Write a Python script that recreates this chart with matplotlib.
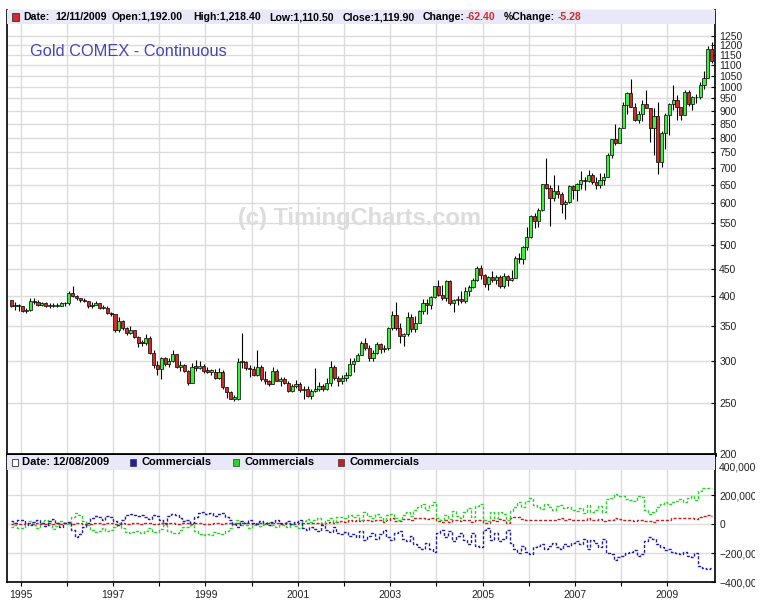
import matplotlib
matplotlib.use('Agg')
import matplotlib.pyplot as plt
from matplotlib.patches import Rectangle
from matplotlib.ticker import FixedLocator, FuncFormatter, NullLocator
import numpy as np

plt.rcParams['font.family'] = ['Liberation Sans', 'DejaVu Sans']

# monthly bars, Oct 1994 .. Dec 2009
first_open = 392
closes = [
    383, 383, 383,
    375, 376, 391, 389, 385, 387, 383, 383, 383, 383, 387, 387,
    405, 400, 396, 392, 391, 382, 385, 387, 379, 379, 371, 369,
    345, 358, 348, 340, 345, 334, 326, 325, 332, 311, 296, 290,
    304, 297, 301, 310, 293, 296, 288, 273, 293, 292, 294, 288,
    287, 287, 279, 286, 268, 262, 255, 255, 299, 299, 291, 290,
    283, 293, 278, 275, 272, 288, 276, 278, 273, 264, 269, 272,
    265, 266, 258, 264, 266, 270, 266, 273, 293, 279, 275, 279,
    283, 297, 301, 309, 326, 318, 305, 312, 324, 317, 318, 347,
    368, 348, 336, 338, 364, 346, 355, 375, 388, 384, 398, 417,
    402, 396, 426, 388, 393, 395, 391, 408, 416, 429, 452, 438,
    422, 435, 428, 435, 417, 437, 429, 433, 473, 470, 495, 518,
    568, 556, 582, 654, 643, 613, 633, 626, 599, 604, 646, 636,
    652, 665, 663, 680, 660, 650, 666, 673, 743, 794, 783, 834,
    923, 972, 917, 863, 887, 926, 912, 834, 880, 718, 816, 884,
    927, 942, 916, 884, 979, 927, 955, 955, 1008, 1040, 1182, 1120,
]
highs = [
    392, 390, 386,
    382, 380, 396, 396, 393, 390, 389, 388, 387, 387, 390, 390,
    408, 418, 402, 397, 396, 391, 389, 391, 388, 385, 383, 372,
    368, 364, 360, 349, 350, 345, 335, 330, 338, 335, 315, 301,
    306, 306, 304, 316, 310, 300, 297, 289, 298, 302, 300, 297,
    293, 290, 290, 292, 289, 268, 264, 259, 305, 340, 300, 296,
    294, 316, 296, 288, 277, 293, 290, 280, 280, 275, 272, 277,
    274, 270, 270, 266, 292, 274, 272, 279, 300, 295, 282, 283,
    286, 304, 304, 312, 328, 332, 322, 315, 327, 326, 323, 349,
    374, 389, 355, 340, 372, 370, 366, 376, 394, 394, 400, 418,
    428, 419, 428, 429, 395, 399, 408, 416, 420, 433, 455, 458,
    440, 437, 446, 438, 438, 442, 439, 447, 476, 482, 497, 540,
    571, 575, 589, 654, 732, 651, 678, 651, 630, 610, 650, 650,
    656, 690, 672, 695, 686, 672, 684, 685, 747, 797, 848, 839,
    934, 976, 1033, 933, 901, 943, 988, 912, 913, 935, 825, 890,
    930, 1008, 965, 912, 985, 986, 960, 970, 1020, 1072, 1195, 1218,
]
lows = [
    381, 376, 375,
    372, 371, 374, 386, 382, 382, 381, 380, 381, 381, 382, 383,
    385, 398, 393, 389, 389, 380, 379, 384, 377, 377, 370, 366,
    341, 342, 345, 337, 338, 333, 320, 321, 322, 310, 291, 283,
    278, 294, 293, 299, 291, 288, 286, 271, 273, 288, 290, 285,
    285, 283, 278, 278, 266, 256, 254, 252, 253, 292, 289, 280,
    281, 281, 276, 272, 270, 272, 275, 270, 272, 263, 263, 267,
    263, 255, 257, 255, 262, 264, 264, 265, 270, 277, 270, 272,
    276, 281, 287, 300, 308, 315, 300, 301, 310, 312, 313, 315,
    345, 345, 325, 321, 336, 342, 342, 355, 370, 370, 378, 397,
    400, 392, 391, 385, 372, 384, 387, 388, 400, 414, 426, 430,
    415, 411, 425, 422, 414, 414, 418, 427, 432, 461, 460, 489,
    516, 538, 540, 580, 638, 543, 605, 614, 575, 560, 600, 612,
    607, 640, 636, 660, 652, 640, 643, 650, 673, 732, 774, 782,
    835, 888, 915, 860, 854, 860, 910, 786, 740, 681, 705, 760,
    808, 902, 866, 865, 884, 920, 904, 930, 948, 992, 1040, 1110,
]

# commitments of traders, thousands of contracts (monthly readings)
comm_blue = [
    20, 10, 30,
    25, 10, -10, 15, 30, 5, -15, 20, 35, 10, -20, 5,
    15, -40, -90, -70, -20, 10, 40, 55, 50, 30, 55, 45,
    20, -10, 30, 65, 70, 60, 55, 65, 50, 35, 60, 55,
    30, 10, 55, 70, 60, 40, 20, 25, 10, 50, 75, 80,
    70, 75, 55, 70, 75, 50, 30, 0, -20, 20, 10, 30,
    10, 0, 20, 5, -10, 15, 25, 5, 10, 20, 0, 15,
    30, -30, -40, -20, -35, -50, -10, -40, -55, -20, -60, -70,
    -55, -85, -70, -90, -50, -110, -80, -60, -100, -70, -40, -90,
    -110, -60, -50, -100, -120, -80, -140, -160, -175, -130, -170, -190,
    -60, -40, -90, -50, -120, -80, -60, -110, -140, -60, -150, -160,
    -40, -30, -110, -60, -120, -100, -40, -130, -170, -200, -150, -190,
    -210, -160, -150, -135, -170, -150, -130, -160, -170, -140, -150, -130,
    -120, -140, -100, -170, -110, -130, -160, -100, -200, -210, -250, -230,
    -220, -200, -190, -180, -220, -210, -120, -90, -100, -140, -160, -180,
    -170, -190, -200, -210, -190, -220, -230, -200, -290, -300, -310, -300,
]
comm_green = [
    -20, -10, -30,
    -25, -5, 20, -5, -25, 10, 25, -10, -35, -15, 20, 5,
    0, 50, 75, 60, 20, -10, -40, -55, -45, -25, -50, -40,
    -20, 10, -25, -55, -60, -55, -50, -60, -45, -30, -55, -55,
    -35, -5, -50, -65, -60, -40, -20, -20, -5, -45, -70, -75,
    -70, -75, -55, -65, -70, -45, -25, 5, 30, -10, -5, -25,
    -10, 5, -15, 0, 15, -10, -20, -5, -10, -20, 0, -15,
    -25, 20, 35, 15, 30, 40, 10, 30, 40, 15, 45, 50,
    40, 60, 50, 60, 30, 80, 55, 40, 70, 45, 25, 60,
    70, 40, 30, 65, 85, 55, 100, 120, 135, 95, 130, 150,
    40, 25, 60, 35, 90, 55, 40, 80, 110, 45, 125, 135,
    30, 20, 80, 40, 85, 70, 30, 90, 120, 150, 115, 160,
    180, 130, 120, 105, 140, 120, 100, 125, 130, 110, 115, 100,
    90, 110, 75, 130, 80, 100, 125, 80, 170, 180, 210, 195,
    190, 175, 165, 160, 195, 185, 100, 70, 85, 115, 135, 150,
    140, 150, 160, 170, 150, 180, 190, 165, 230, 245, 250, 245,
]
comm_red = [
    0, 5, 0,
    0, 5, 5, 0, 5, 0, 0, 5, 0, 5, 0, 5,
    5, 0, 10, 5, 0, 0, 0, 5, 5, 0, 5, 5,
    0, 0, 5, 0, 0, 5, 5, 0, 5, 5, 0, 0,
    5, 0, 5, 5, 0, 0, 5, 5, 0, 5, 5, 0,
    0, 0, 5, 5, 0, 5, 5, 0, 5, 10, 5, 5,
    0, 5, 5, 0, 5, 5, 5, 0, 0, 5, 0, 0,
    5, 10, 5, 5, 5, 10, 0, 10, 15, 5, 15, 20,
    15, 25, 20, 30, 20, 30, 25, 20, 30, 25, 15, 30,
    40, 20, 20, 35, 35, 25, 40, 40, 40, 35, 40, 40,
    20, 15, 30, 15, 30, 25, 20, 30, 30, 15, 25, 25,
    10, 10, 30, 20, 35, 30, 10, 40, 50, 50, 35, 30,
    30, 30, 30, 30, 30, 30, 30, 35, 40, 30, 35, 30,
    30, 30, 25, 40, 30, 30, 35, 20, 30, 30, 40, 35,
    30, 25, 25, 20, 25, 25, 20, 20, 15, 25, 25, 30,
    30, 40, 40, 40, 40, 40, 40, 35, 50, 55, 60, 55,
]

price_ticks = [200, 250, 300, 350, 400, 450, 500, 550, 600, 650, 700, 750, 800,
               850, 900, 950, 1000, 1050, 1100, 1150, 1200, 1250]
cot_ticks = [-400000, -200000, 0, 200000, 400000]
year_ticks = list(range(1995, 2010))

W, H = 765, 612
def fx(px):
    return px / W
def fy(py):
    return 1 - py / H

GREEN = '#3cf03c'
RED = '#d42a2a'
GRID = '#dcdcdc'
BAND = '#e8e8f8'

n = len(closes)
t = 1994.75 + (np.arange(n) + 0.5) / 12.0
opens = [first_open] + closes[:-1]

fig = plt.figure(figsize=(7.65, 6.12), dpi=100)
ax = fig.add_axes([fx(7), fy(454), fx(715) - fx(7), fy(10) - fy(454)])
ax2 = fig.add_axes([fx(7), fy(582), fx(715) - fx(7), fy(455) - fy(582)], sharex=ax)

# ---- price panel
ax.set_yscale('log')
ax.set_ylim(200, 1400)
ax.set_xlim(1994.703, 2010.03)
for tt, o, h, l, c in zip(t, opens, highs, lows, closes):
    col = GREEN if c >= o else RED
    ax.vlines(tt, l, h, color='black', lw=0.8, zorder=3)
    lo, hi = min(o, c), max(o, c)
    if hi - lo < 1.5:
        hi = lo + 1.5
    ax.bar(tt, hi - lo, bottom=lo, width=0.068, color=col, edgecolor='black',
           lw=0.5, zorder=4)

ax.yaxis.set_major_locator(FixedLocator(price_ticks))
ax.yaxis.set_minor_locator(NullLocator())
ax.yaxis.set_major_formatter(FuncFormatter(lambda v, p: f'{int(v)}'))
ax.grid(True, color=GRID, lw=1, zorder=0)
ax.tick_params(axis='y', which='both', left=False, right=True, labelleft=False,
               labelright=True, direction='in', length=3, pad=3,
               labelsize=7.5, labelcolor='#222222')
ax.tick_params(axis='x', bottom=False, labelbottom=False)
ax.spines['bottom'].set_linewidth(2)
ax.spines['top'].set_color('#666666')
for s in ('left', 'right'):
    ax.spines[s].set_linewidth(1.2)

ax.add_patch(Rectangle((0, 1 - 14 / 444), 1, 14 / 444, transform=ax.transAxes,
                       facecolor=BAND, edgecolor='none', zorder=5))
fig.text(fx(359), fy(218), '(c) TimingCharts.com', ha='center', va='center',
         fontsize=17, fontweight='bold', color='#dcdcdc', zorder=0.5)
fig.text(fx(30), fy(51), 'Gold COMEX - Continuous', fontsize=11.8,
         color='#4646b4', va='center', ha='left')

# header line
fig.patches.append(Rectangle((fx(12), fy(21)), fx(7), 8 / H, transform=fig.transFigure,
                             facecolor=RED, edgecolor='#333333', lw=0.6, zorder=6))
hdr = [(23, 'Date:', 'black'), (55, '12/11/2009', 'black'),
       (112, 'Open:1,192.00', 'black'), (193, 'High:1,218.40', 'black'),
       (269, 'Low:1,110.50', 'black'), (343, 'Close:1,119.90', 'black'),
       (423, 'Change:', 'black'), (466, '-62.40', RED),
       (504, '%Change:', 'black'), (558, '-5.28', RED)]
for px, s, col in hdr:
    fig.text(fx(px), fy(17), s, fontsize=7.6, fontweight='bold', color=col,
             va='center', ha='left', zorder=7)

# ---- COT panel
kw = dict(where='mid', lw=1.0, ls=(0, (2.2, 1.3)), zorder=3)
ax2.step(t, np.array(comm_red) * 1000, color='#c81e1e', **kw)
ax2.step(t, np.array(comm_green) * 1000, color='#28d228', **kw)
ax2.step(t, np.array(comm_blue) * 1000, color='#1e1eaa', **kw)
ax2.set_ylim(-400000, 476000)
ax2.yaxis.set_major_locator(FixedLocator(cot_ticks))
ax2.yaxis.set_major_formatter(FuncFormatter(lambda v, p: f'{int(v):,}'.replace('-', '\u2212')))
ax2.xaxis.set_major_locator(FixedLocator(year_ticks))
ax2.xaxis.set_major_formatter(FuncFormatter(lambda v, p: str(int(round(v))) if int(round(v)) % 2 else ''))
ax2.grid(True, color=GRID, lw=1, zorder=0)
ax2.tick_params(axis='y', left=False, right=True, labelleft=False, labelright=True,
                direction='in', length=3, pad=3, labelsize=7.5, labelcolor='#222222')
ax2.tick_params(axis='x', direction='out', length=3, pad=3, labelsize=7.5,
                labelcolor='#222222')
ax2.spines['top'].set_linewidth(2)
for s in ('left', 'right', 'bottom'):
    ax2.spines[s].set_linewidth(1.2)

ax2.add_patch(Rectangle((0, 1 - 15 / 127), 1, 15 / 127, transform=ax2.transAxes,
                        facecolor=BAND, edgecolor='none', zorder=5))
fig.patches.append(Rectangle((fx(12), fy(466)), fx(6), 7 / H, transform=fig.transFigure,
                             facecolor='white', edgecolor='#333333', lw=0.6, zorder=6))
fig.text(fx(22), fy(462), 'Date: 12/08/2009', fontsize=8, fontweight='bold',
         va='center', ha='left', zorder=7)
for sx, col in [(130, '#1e1eaa'), (233, '#28d228'), (338, '#c81e1e')]:
    fig.patches.append(Rectangle((fx(sx), fy(466)), fx(6), 7 / H, transform=fig.transFigure,
                                 facecolor=col, edgecolor='#333333', lw=0.5, zorder=6))
    fig.text(fx(sx + 12), fy(462), 'Commercials', fontsize=8, fontweight='bold',
             va='center', ha='left', zorder=7)

# the source image is cropped a little short on the right
fig.patches.append(Rectangle((fx(755), 0), fx(10), fy(455), transform=fig.transFigure,
                             facecolor='white', edgecolor='none', zorder=20))

fig.savefig('out.png', dpi=100)
